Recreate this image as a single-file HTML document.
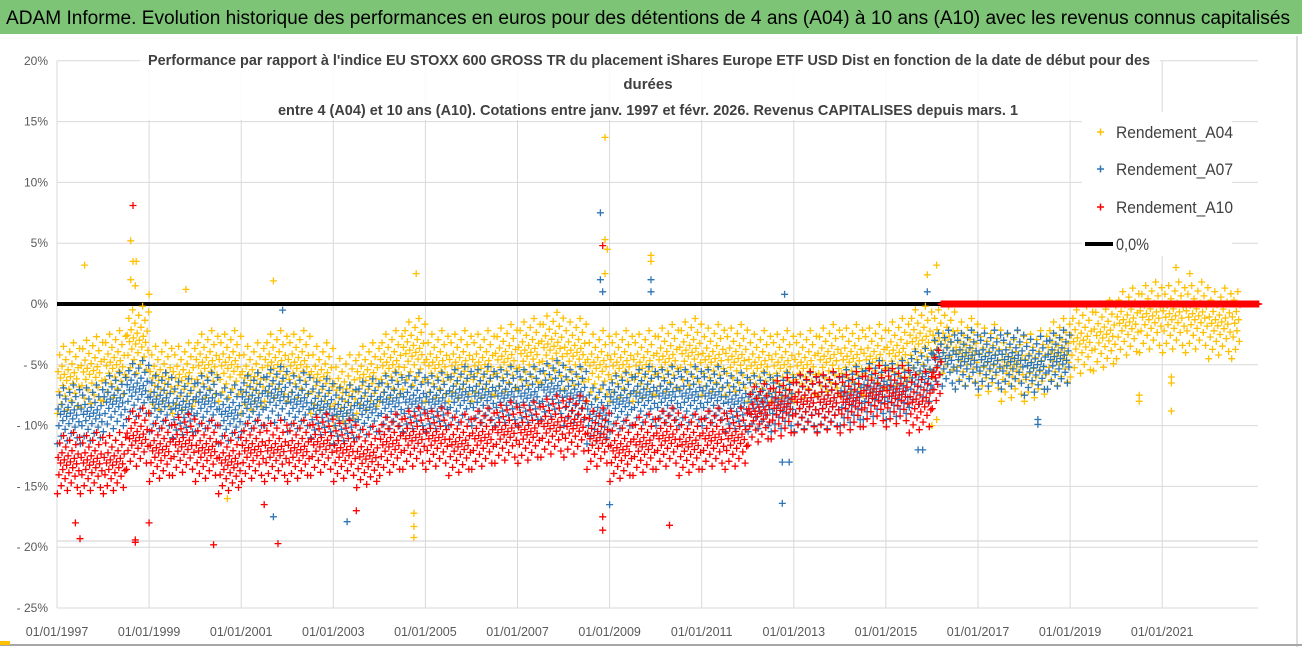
<!DOCTYPE html>
<html><head><meta charset="utf-8">
<style>
html,body{margin:0;padding:0;background:#fff;}
svg{display:block;font-family:"Liberation Sans Narrow","Liberation Sans",sans-serif;}
</style></head>
<body>
<svg id="chart" width="1302" height="647" viewBox="0 0 1302 647">
  <rect x="0" y="0" width="1302" height="647" fill="#fff"/>
  <rect x="0" y="0" width="1302" height="34" fill="#7dc477"/>
  <text x="6" y="24" font-size="19" fill="#000" textLength="1284" lengthAdjust="spacingAndGlyphs">ADAM Informe. Evolution historique des performances en euros pour des détentions de 4 ans (A04) à 10 ans (A10) avec les revenus connus capitalisés</text>
  <line x1="1297" y1="36" x2="1297" y2="647" stroke="#bfbfbf"/>
  <line x1="0" y1="645" x2="1302" y2="645" stroke="#a6a6a6" stroke-width="2"/>
  <rect x="0" y="641" width="10" height="4" fill="#ffc000"/>
  <g id="grid"></g>
  <g id="yaxis"></g>
  <g id="xaxis"></g>
  <line id="zeroline" stroke="#000" stroke-width="4"/>
  <g id="marks"></g>
  <rect x="140" y="44" width="1020" height="76" fill="#fff" opacity="0.85"/>
  <g font-weight="bold" fill="#404040" font-size="15">
    <text x="148" y="65" textLength="1002" lengthAdjust="spacingAndGlyphs">Performance par rapport à l'indice EU STOXX 600 GROSS TR  du placement iShares Europe ETF USD Dist en fonction de la date de début pour des</text>
    <text x="648" y="89" text-anchor="middle">durées</text>
    <text x="278" y="115" textLength="740" lengthAdjust="spacingAndGlyphs">entre 4 (A04) et 10 ans (A10).  Cotations entre janv. 1997 et févr. 2026. Revenus CAPITALISES depuis mars. 1</text>
  </g>
  <rect x="1082" y="112" width="150" height="144" fill="#fff"/>
  <g font-size="17" fill="#404040">
    <g>
      <path d="M1097 132h7M1100.5 128.5v7" stroke="#ffc000" stroke-width="1.5"/>
      <text x="1116" y="138" textLength="117" lengthAdjust="spacingAndGlyphs">Rendement_A04</text>
    </g>
    <g>
      <path d="M1097 169h7M1100.5 165.5v7" stroke="#2e75b6" stroke-width="1.5"/>
      <text x="1116" y="175" textLength="117" lengthAdjust="spacingAndGlyphs">Rendement_A07</text>
    </g>
    <g>
      <path d="M1097 207h7M1100.5 203.5v7" stroke="#ff0000" stroke-width="1.5"/>
      <text x="1116" y="213" textLength="117" lengthAdjust="spacingAndGlyphs">Rendement_A10</text>
    </g>
    <g>
      <line x1="1085" y1="244" x2="1113" y2="244" stroke="#000" stroke-width="4"/>
      <text x="1116" y="250" textLength="33" lengthAdjust="spacingAndGlyphs">0,0%</text>
    </g>
  </g>
</svg>
<script>
// ---- data (half-year bins starting 1997.0) ----
const binStart = 1997;
const medA04 = [-6,-5.5,-5,-3,-6,-6,-5,-5,-6,-5,-5,-6,-7,-6,-5,-4,-5,-5,-5,-4.5,-4,-3.5,-4,-5,-5,-5,-4.5,-4,-4.5,-4.5,-5,-5,-5,-4.5,-4.5,-4.5,-4,-3,-3,-4,-4.5,-5,-5,-4,-3,-2.5,-1.5,-1,-1,-1,-1.5,-1.5];
const medA07 = [-9,-9,-8,-7,-8,-8.5,-8,-9,-8,-7.5,-8,-8.5,-9,-8.5,-8,-8,-8,-7.5,-7.5,-7.5,-7.5,-7,-7.5,-9,-8,-7.5,-7.5,-7.5,-7.5,-8,-8,-8,-8,-8,-7.5,-7,-7,-6,-4.5,-4.5,-4.5,-4.5,-5,-4.5];
const medA10 = [-13,-13,-13,-11,-12,-11.5,-12,-13,-12,-12,-12,-11.5,-12,-12.5,-11.5,-11,-11,-11.5,-11,-10.5,-10.5,-10,-10,-11,-12,-11.5,-11,-11.5,-11,-11,-9,-8.5,-8,-8,-8,-7.5,-7.5,-8,-6,0,0,0,0,0,0,0,0,0,0,0,0,0,0];
const spreadA04 = 3.0, spreadA07 = 2.5, spreadA10 = 2.6;
const endA04 = 2022.7, endA07 = 2019.15, endA10 = 2023.1;
const a10ZeroFrom = 2016.2, zeroLineEnd = 2016.2;
const outA04 = [[1997.6,3.2],[1998.6,5.2],[1998.65,3.5],[1998.72,3.5],[1998.6,2],[1998.7,1.5],[1999.0,0.8],[2004.75,-17.2],[2004.75,-18.3],[2004.75,-19.2],[2004.8,2.5],[2008.9,13.7],[2008.9,5.3],[2008.95,4.5],[2008.9,2.5],[2009.9,4],[2009.9,3.5],[2016.1,3.2],[2020.5,-7.5],[2020.5,-8],[2021.2,-6],[2021.2,-8.8],[2021.2,-6.5],[2021.6,2.5],[2021.3,3],[2015.9,2.4],[1999.8,1.2],[2001.7,1.9],[2000.7,-16],[2016.0,-10],[2016.1,-9.5]];
const outA07 = [[2008.8,7.5],[2008.8,2],[2008.85,1],[2009.9,2],[2009.9,1],[2012.8,0.8],[2012.75,-16.4],[2012.75,-13],[2012.9,-13],[2003.3,-17.9],[2001.7,-17.5],[2018.3,-9.9],[2018.3,-9.5],[2015.9,1],[2009.0,-16.5],[2001.9,-0.5],[2015.7,-12],[2015.8,-12]];
const outA10 = [[1998.65,8.1],[1998.7,-19.4],[1998.7,-19.6],[1997.5,-19.3],[1997.4,-18],[2000.4,-19.8],[2001.8,-19.7],[2008.85,-18.6],[2008.85,-17.5],[2008.85,4.8],[2010.3,-18.2],[2003.5,-17],[2001.5,-16.5],[1999.0,-18]];
const yTicks = [20,15,10,5,0,-5,-10,-15,-20,-25];
const yTickLabels = ["20%","15%","10%","5%","0%","- 5%","- 10%","- 15%","- 20%","- 25%"];
const xTicks = [1997,1999,2001,2003,2005,2007,2009,2011,2013,2015,2017,2019,2021];
const xTickLabels = ["01/01/1997","01/01/1999","01/01/2001","01/01/2003","01/01/2005","01/01/2007","01/01/2009","01/01/2011","01/01/2013","01/01/2015","01/01/2017","01/01/2019","01/01/2021"];

// ---- axes ----
const X0 = 57, PX_PER_YEAR = 46.05, Y0 = 304, PX_PER_PCT = 12.16;
function xs(t){ return X0 + (t - 1997) * PX_PER_YEAR; }
function ys(v){ return Y0 - v * PX_PER_PCT; }
const NS = "http://www.w3.org/2000/svg";
function mk(tag, attrs, parent){ const e = document.createElementNS(NS, tag); for (const k in attrs) e.setAttribute(k, attrs[k]); parent.appendChild(e); return e; }

const grid = document.getElementById('grid');
const yaxis = document.getElementById('yaxis');
const xaxis = document.getElementById('xaxis');
const plotRight = 1258;
yTicks.forEach((v, i) => {
  const l = mk('line', {x1: X0, x2: plotRight, y1: ys(v), y2: ys(v), stroke: '#d9d9d9', 'stroke-width': 1}, grid);
  
  
  const t = mk('text', {x: 48, y: ys(v) + 4, 'text-anchor': 'end', 'font-size': 12, fill: '#595959'}, yaxis);
  t.textContent = yTickLabels[i];
  
  
});
const extra = mk('line', {x1: X0, x2: plotRight, y1: 541, y2: 541, stroke: '#cfcfcf'}, grid);


xTicks.forEach((t, i) => {
  const l = mk('line', {x1: xs(t), x2: xs(t), y1: ys(20), y2: ys(-25), stroke: '#d9d9d9'}, grid);
  
  
  const tx = mk('text', {x: xs(t), y: 636, 'text-anchor': 'middle', 'font-size': 12.5, fill: '#595959'}, xaxis);
  tx.textContent = xTickLabels[i];
  
  
});
const zl = document.getElementById('zeroline');
zl.setAttribute('x1', xs(1997)); zl.setAttribute('x2', xs(zeroLineEnd));
zl.setAttribute('y1', ys(0)); zl.setAttribute('y2', ys(0));

// ---- marks ----
const marks = document.getElementById('marks');
const N = 30;
const pattern = [];
for (let k = 0; k < N; k++) { const f = ((k * 0.6180339) % 1) * 2 - 1; pattern.push(f * (0.5 + 0.5 * Math.abs(f))); }
function plus(x, y, color, g){
  const p = mk('path', {d: `M${(x-3.5).toFixed(1)} ${y.toFixed(1)}h7M${x.toFixed(1)} ${(y-3.5).toFixed(1)}v7`, stroke: color, 'stroke-width': 1.3, fill: 'none'}, g);
  
  
}
function series(name, meds, spread, end, outs, color, zeroFrom){
  const g = mk('g', {}, marks);
  
  
  meds.forEach((m, b) => {
    const t0 = binStart + b * 0.5;
    const n = m === 0 ? 60 : N;
    for (let k = 0; k < n; k++) {
      const t = t0 + (k + 0.5) / n * 0.5;
      if (t > end) break;
      if (m !== 0 && zeroFrom !== undefined && t > zeroFrom) break;
      const s = m === 0 ? 0 : spread * pattern[k % N];
      plus(xs(t), ys(m + s), color, g);
    }
  });
  if (zeroFrom !== undefined) {
    const firstZeroBin = binStart + meds.findIndex(v => v === 0) * 0.5;
    for (let t = zeroFrom; t < firstZeroBin; t += 0.5 / 60) plus(xs(t), ys(0), color, g);
  }
  outs.forEach(o => plus(xs(o[0]), ys(o[1]), color, g));
}
series('series-a04', medA04, spreadA04, endA04, outA04, '#ffc000');
series('series-a07', medA07, spreadA07, endA07, outA07, '#2e75b6');
series('series-a10', medA10, spreadA10, endA10, outA10, '#ff0000', a10ZeroFrom);
</script>
</body></html>
